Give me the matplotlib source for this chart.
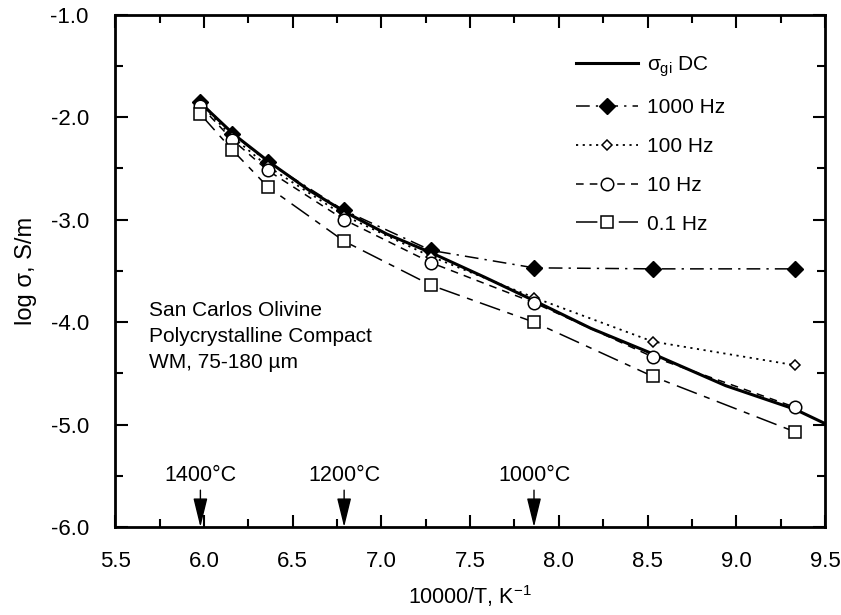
import matplotlib
matplotlib.use("Agg")
import matplotlib.pyplot as plt
from matplotlib.ticker import MultipleLocator, FormatStrFormatter

plt.rcParams['font.family'] = ['Liberation Sans', 'DejaVu Sans']
plt.rcParams['axes.unicode_minus'] = False
plt.rcParams['mathtext.fontset'] = 'custom'
plt.rcParams['mathtext.rm'] = 'Liberation Sans'
plt.rcParams['mathtext.it'] = 'Liberation Sans'

# 10000/T of the measurement temperatures
inv_t = [5.98, 6.16, 6.36, 6.79, 7.28, 7.86, 8.53, 9.33]

# log sigma (S/m) for each frequency
hz_1000 = [-1.85, -2.16, -2.44, -2.91, -3.30, -3.47, -3.48, -3.48]
hz_100 = [-1.87, -2.19, -2.48, -2.96, -3.36, -3.76, -4.19, -4.42]
hz_10 = [-1.89, -2.22, -2.52, -3.00, -3.42, -3.81, -4.34, -4.83]
hz_01 = [-1.97, -2.32, -2.68, -3.21, -3.64, -4.00, -4.53, -5.07]

# grain interior DC curve
dc_x = [5.98, 6.17, 6.37, 6.59, 6.80, 7.03, 7.29, 7.58, 7.86, 8.18, 8.53, 8.94, 9.33, 9.50]
dc_y = [-1.86, -2.17, -2.44, -2.71, -2.93, -3.14, -3.33, -3.56, -3.79, -4.06, -4.31, -4.62, -4.85, -4.99]

# temperature arrows
arrow_x = [5.98, 6.79, 7.86]
arrow_labels = ['1400°C', '1200°C', '1000°C']

fig = plt.figure(figsize=(8.41, 6.15), dpi=100)
ax = fig.add_axes([0.137, 0.143, 0.844, 0.833])

ax.plot(dc_x, dc_y, color='black', lw=2.2, ls='-', label=r'$\sigma_{gi}$ DC')
ax.plot(inv_t, hz_1000, color='black', lw=1.1, ls=(0, (9, 4, 1.5, 4)),
        marker='D', ms=8.5, mfc='black', mec='black', label='1000 Hz')
ax.plot(inv_t, hz_100, color='black', lw=1.3, ls=(0, (1.2, 2.5)),
        marker='D', ms=5.5, mfc='white', mec='black', mew=1.1, label='100 Hz')
ax.plot(inv_t, hz_10, color='black', lw=1.1, ls=(0, (5, 4)),
        marker='o', ms=9, mfc='white', mec='black', mew=1.1, label='10 Hz')
ax.plot(inv_t, hz_01, color='black', lw=1.1, ls=(0, (14, 5, 4, 5)),
        marker='s', ms=8, mfc='white', mec='black', mew=1.1, label='0.1 Hz')

for x, lab in zip(arrow_x, arrow_labels):
    ax.annotate('', xy=(x, -6.0), xytext=(x, -5.64),
                arrowprops=dict(arrowstyle='-|>,head_length=0.9,head_width=0.22',
                                color='black', lw=1.0,
                                mutation_scale=20, shrinkA=0, shrinkB=0))
    ax.text(x, -5.5, lab, ha='center', va='center', fontsize=15.5)

ax.text(5.69, -4.14, 'San Carlos Olivine\nPolycrystalline Compact\nWM, 75-180 µm',
        ha='left', va='center', fontsize=15, linespacing=1.45)

ax.set_xlim(5.5, 9.5)
ax.set_ylim(-6.0, -1.0)
ax.xaxis.set_major_locator(MultipleLocator(0.5))
ax.xaxis.set_minor_locator(MultipleLocator(0.25))
ax.yaxis.set_major_locator(MultipleLocator(1.0))
ax.yaxis.set_minor_locator(MultipleLocator(0.5))
ax.xaxis.set_major_formatter(FormatStrFormatter('%.1f'))
ax.yaxis.set_major_formatter(FormatStrFormatter('%.1f'))
ax.tick_params(which='both', direction='in', top=True, right=True, width=1.5,
               labelsize=16)
ax.tick_params(axis='x', which='major', pad=17)
ax.tick_params(axis='y', which='major', pad=19)
ax.tick_params(which='major', length=9)
ax.tick_params(which='minor', length=6)
for s in ax.spines.values():
    s.set_linewidth(2.0)

ax.set_xlabel('10000/T, K$^{-1}$', fontsize=15.5, labelpad=8)
ax.set_ylabel('log σ, S/m', fontsize=17, labelpad=10)

ax.legend(loc='upper right', bbox_to_anchor=(0.885, 0.96), frameon=False,
          fontsize=15, handlelength=3.0, labelspacing=0.95, handletextpad=0.4)

fig.savefig('out.png', dpi=100)
